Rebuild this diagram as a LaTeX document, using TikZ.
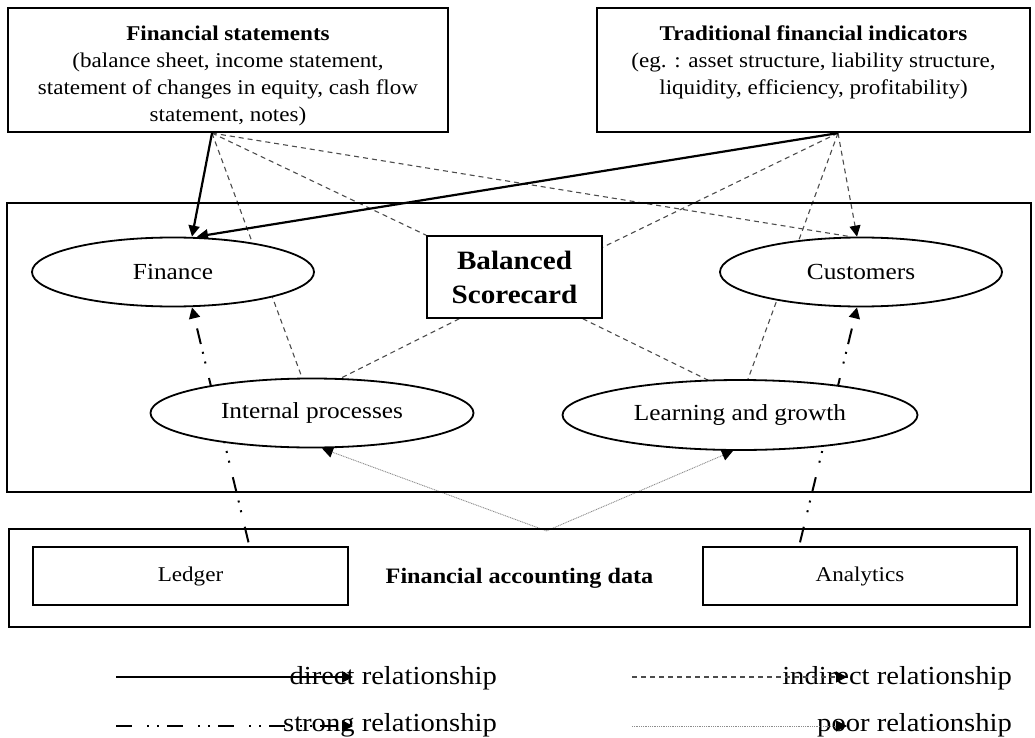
\documentclass[tikz,border=0pt]{standalone}
\usepackage{fontspec}
\setmainfont{Liberation Serif}[FakeStretch=1.1]
\usetikzlibrary{arrows.meta,calc,shapes.geometric}
\pgfdeclarelayer{bg}
\pgfsetlayers{bg,main}
\tikzset{
  frame/.style={draw, line width=2.2pt, inner sep=0pt},
  pbox/.style={draw, line width=1.3pt, fill=white, inner sep=0pt, font=\fontsize{21}{27}\selectfont},
  persp/.style={draw, ellipse, line width=1.8pt, fill=white, inner sep=0pt, font=\fontsize{23}{27}\selectfont},
  btext/.style={align=center, inner sep=0pt, font=\fontsize{21}{27}\selectfont},
  tip/.style={-{Triangle[length=11pt,width=11pt,color=black]}},
  direct/.style={line width=2.2pt, tip},
  indirect/.style={line width=1.1pt, draw=black!70, dash pattern=on 5pt off 4pt},
  indarrow/.style={indirect, tip},
  strong/.style={line width=2pt, dash pattern=on 16pt off 15pt on 2pt off 8pt on 2pt off 8pt, tip},
  poor/.style={line width=0.9pt, draw=black!45, dash pattern=on 1pt off 0.8pt, tip},
  legtext/.style={inner sep=0pt, anchor=base east, font=\fontsize{26}{30}\selectfont},
}
\begin{document}
\begin{tikzpicture}[x=1pt,y=-1pt]
\useasboundingbox (0,0) rectangle (1035,738);
% top boxes
\node[frame, minimum width=440pt, minimum height=124pt] (fs) at (228,70) {};
\node[btext, anchor=north] (fstext) at (228,26) {\textbf{Financial statements}\\(balance sheet, income statement,\\statement of changes in equity, cash flow\\statement, notes)};
\node[frame, minimum width=433pt, minimum height=124pt] (tfi) at (813.5,70) {};
\node[btext, anchor=north] (tfitext) at (813.5,26) {\textbf{Traditional financial indicators}\\(eg. : asset structure, liability structure,\\liquidity, efficiency, profitability)};
% frames
\node[frame, minimum width=1024pt, minimum height=289pt] (bscframe) at (519,347.5) {};
\node[frame, minimum width=1021pt, minimum height=98pt, font=\bfseries\fontsize{22}{27}\selectfont] (data) at (519.5,578) {Financial accounting data};
\node[pbox, minimum width=315pt, minimum height=58pt] (ledger) at (190.5,576) {Ledger};
\node[pbox, minimum width=314pt, minimum height=58pt] (analytics) at (860,576) {Analytics};
% balanced scorecard
\node[pbox, line width=1.5pt, minimum width=175pt, minimum height=82pt, align=center, font=\bfseries\fontsize{26.5}{34}\selectfont] (bsc) at (514.5,277) {Balanced\\Scorecard};
% perspectives
\node[persp, minimum width=282pt, minimum height=69pt] (fin) at (173,272) {Finance};
\node[persp, minimum width=282pt, minimum height=69pt] (cus) at (861,272) {Customers};
\node[persp, minimum width=323pt, minimum height=69pt] (ip) at (312,413) {Internal processes};
\node[persp, minimum width=355pt, minimum height=70pt] (lg) at (740,415) {Learning and growth};
% connectors
\begin{pgfonlayer}{bg}
\coordinate (fsS) at ($(fs.south)+(-16,0)$);
\coordinate (tfiS) at ($(tfi.south)+(24.5,0)$);
\draw[indirect] (fsS) -- ($(cus.north)+(-11,0)$);
\draw[indirect] (fsS) -- (bsc.north west);
\draw[indirect] (fsS) -- ($(ip.north)+(-10,0)$);
\draw[indarrow] (tfiS) -- ($(cus.north)+(-4,0)$);
\draw[indirect] (tfiS) -- ($(bsc.north east)+(0,12)$);
\draw[indirect] (tfiS) -- ($(lg.north)+(8,0)$);
\draw[indirect] ($(bsc.south west)+(33,0)$) -- ($(ip.north)+(28,1)$);
\draw[indirect] ($(bsc.south east)+(-20,0)$) -- ($(lg.north)+(-32,1)$);
\draw[direct] (fsS) -- ($(fin.north)+(19,0)$);
\draw[direct] (tfiS) -- ($(fin.north)+(24,0)$);
\coordinate (v) at ($(data.north)+(27,3)$);
\draw[poor] (v) -- ($(ip.south)+(10,0)$);
\draw[poor] (v) -- ($(lg.south)+(-7,0)$);
\draw[strong] ($(ledger.north)+(58,-4)$) -- ($(fin.south)+(19,0)$);
\draw[strong] ($(analytics.north)+(-60,-4)$) -- ($(cus.south)+(-4,0)$);
\end{pgfonlayer}
% legend
\node[legtext] (ldt) at (497,684) {direct relationship};
\node[legtext] (lit) at (1012,684) {indirect relationship};
\node[legtext] (lst) at (497,731) {strong relationship};
\node[legtext] (lpt) at (1012,731) {poor relationship};
\coordinate (ld1) at (116,677); \coordinate (ld2) at (353,677);
\coordinate (li1) at (632,677); \coordinate (li2) at (847,677);
\coordinate (ls1) at (116,726); \coordinate (ls2) at (353,726);
\coordinate (lp1) at (632,726); \coordinate (lp2) at (847,726);
\draw[direct] (ld1) -- (ld2);
\draw[indarrow] (li1) -- (li2);
\draw[strong] (ls1) -- (ls2);
\draw[poor] (lp1) -- (lp2);
\end{tikzpicture}
\end{document}
